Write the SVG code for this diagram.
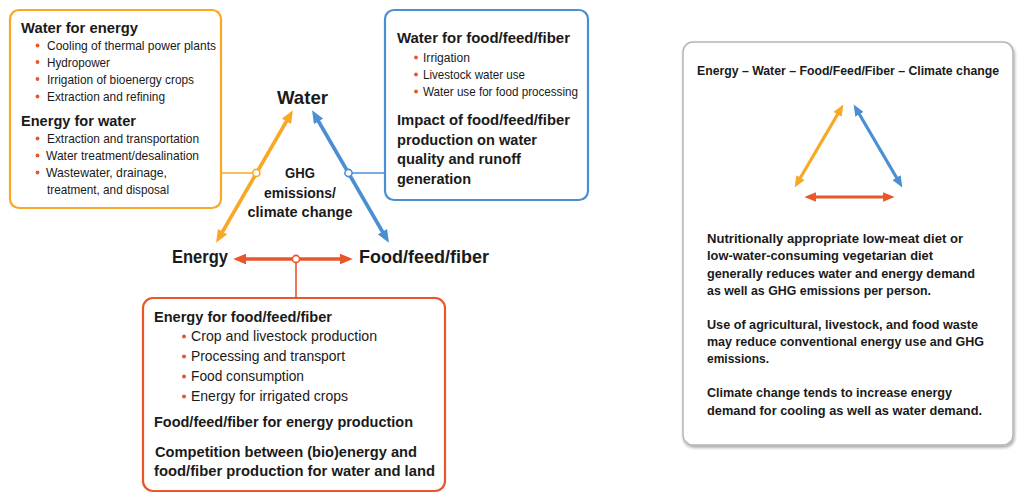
<svg xmlns="http://www.w3.org/2000/svg" width="1024" height="501" viewBox="0 0 1024 501">
<style>
text{font-family:"Liberation Sans",Arial,sans-serif;fill:#1a1a1a}
.h{font-weight:bold;font-size:15.5px}
.b{font-size:13.5px}
.bb{font-size:15px}
.lab{font-weight:bold;font-size:19px}
.ghg{font-weight:bold;font-size:15px}
.rt{font-weight:bold;font-size:13.5px}
.dot{fill:#E8562A}
.box{fill:#fff;stroke-width:2.2}
</style>
<defs>
<marker id="mO" viewBox="0 0 12 10" markerWidth="3.6" markerHeight="3" refX="2" refY="5" orient="auto-start-reverse"><path d="M0,0 L12,5 L0,10 z" fill="#F9A825"/></marker>
<marker id="mB" viewBox="0 0 12 10" markerWidth="3.6" markerHeight="3" refX="2" refY="5" orient="auto-start-reverse"><path d="M0,0 L12,5 L0,10 z" fill="#4B8FD3"/></marker>
<marker id="mR" viewBox="0 0 12 10" markerWidth="3.6" markerHeight="3" refX="2" refY="5" orient="auto-start-reverse"><path d="M0,0 L12,5 L0,10 z" fill="#E8562A"/></marker>
<filter id="sh" x="-5%" y="-5%" width="110%" height="110%"><feDropShadow dx="1" dy="2" stdDeviation="1.5" flood-color="#000" flood-opacity="0.35"/></filter>
</defs>

<g id="connectors">
<line x1="221" y1="173" x2="256" y2="173" stroke="#F9A825" stroke-width="1.6"/>
<line x1="348.5" y1="173" x2="385" y2="173" stroke="#4B8FD3" stroke-width="1.6"/>
<line x1="296" y1="259" x2="296" y2="298" stroke="#E8562A" stroke-width="1.6"/>
<line x1="221.5" y1="233.5" x2="287.5" y2="119.5" stroke="#F9A825" stroke-width="3.6" marker-start="url(#mO)" marker-end="url(#mO)"/>
<line x1="317.5" y1="119.5" x2="383.5" y2="233.5" stroke="#4B8FD3" stroke-width="3.6" marker-start="url(#mB)" marker-end="url(#mB)"/>
<line x1="244" y1="259" x2="342" y2="259" stroke="#E8562A" stroke-width="3.6" marker-start="url(#mR)" marker-end="url(#mR)"/>
<circle cx="256.3" cy="173" r="3.6" fill="#fff" stroke="#F9A825" stroke-width="1.6"/>
<circle cx="348.5" cy="173" r="3.6" fill="#fff" stroke="#4B8FD3" stroke-width="1.6"/>
<circle cx="296" cy="259" r="3.6" fill="#fff" stroke="#E8562A" stroke-width="1.6"/>
</g>

<g id="water-energy-box">
<rect class="box" x="10" y="10" width="211" height="198" rx="9" stroke="#F9A825"/>
<text class="h" x="21" y="33" textLength="117" lengthAdjust="spacingAndGlyphs">Water for energy</text>
<circle class="dot" cx="37.5" cy="45.5" r="1.9"/><text class="b" x="47" y="50" textLength="169" lengthAdjust="spacingAndGlyphs">Cooling of thermal power plants</text>
<circle class="dot" cx="37.5" cy="62" r="1.9"/><text class="b" x="47" y="66.5" textLength="63" lengthAdjust="spacingAndGlyphs">Hydropower</text>
<circle class="dot" cx="37.5" cy="79" r="1.9"/><text class="b" x="47" y="83.5" textLength="147" lengthAdjust="spacingAndGlyphs">Irrigation of bioenergy crops</text>
<circle class="dot" cx="37.5" cy="96.5" r="1.9"/><text class="b" x="47" y="101" textLength="118" lengthAdjust="spacingAndGlyphs">Extraction and refining</text>
<text class="h" x="21" y="126" textLength="115" lengthAdjust="spacingAndGlyphs">Energy for water</text>
<circle class="dot" cx="37.5" cy="138.5" r="1.9"/><text class="b" x="47" y="143" textLength="152" lengthAdjust="spacingAndGlyphs">Extraction and transportation</text>
<circle class="dot" cx="37.5" cy="155.5" r="1.9"/><text class="b" x="46" y="160" textLength="153" lengthAdjust="spacingAndGlyphs">Water treatment/desalination</text>
<circle class="dot" cx="37.5" cy="172.5" r="1.9"/><text class="b" x="46" y="177" textLength="121" lengthAdjust="spacingAndGlyphs">Wastewater, drainage,</text>
<text class="b" x="47" y="194" textLength="122" lengthAdjust="spacingAndGlyphs">treatment, and disposal</text>
</g>

<g id="water-food-box">
<rect class="box" x="385" y="10" width="203" height="190" rx="9" stroke="#4B8FD3"/>
<text class="h" x="397" y="43" textLength="173" lengthAdjust="spacingAndGlyphs">Water for food/feed/fiber</text>
<circle class="dot" cx="416" cy="57.5" r="1.9"/><text class="b" x="423" y="62" textLength="47" lengthAdjust="spacingAndGlyphs">Irrigation</text>
<circle class="dot" cx="416" cy="74.5" r="1.9"/><text class="b" x="423" y="79" textLength="102" lengthAdjust="spacingAndGlyphs">Livestock water use</text>
<circle class="dot" cx="416" cy="91.5" r="1.9"/><text class="b" x="423" y="96" textLength="155" lengthAdjust="spacingAndGlyphs">Water use for food processing</text>
<text class="h" x="397" y="125" textLength="173" lengthAdjust="spacingAndGlyphs">Impact of food/feed/fiber</text>
<text class="h" x="397" y="145" textLength="140" lengthAdjust="spacingAndGlyphs">production on water</text>
<text class="h" x="397" y="164" textLength="124" lengthAdjust="spacingAndGlyphs">quality and runoff</text>
<text class="h" x="397" y="184" textLength="74" lengthAdjust="spacingAndGlyphs">generation</text>
</g>

<g id="energy-food-box">
<rect class="box" x="143" y="298" width="302" height="193" rx="10" stroke="#E8562A"/>
<text class="h" x="154" y="322" textLength="178" lengthAdjust="spacingAndGlyphs">Energy for food/feed/fiber</text>
<circle class="dot" cx="184" cy="336.5" r="2"/><text class="bb" x="191" y="341" textLength="186" lengthAdjust="spacingAndGlyphs">Crop and livestock production</text>
<circle class="dot" cx="184" cy="356.5" r="2"/><text class="bb" x="191" y="361" textLength="154" lengthAdjust="spacingAndGlyphs">Processing and transport</text>
<circle class="dot" cx="184" cy="376.5" r="2"/><text class="bb" x="191" y="381" textLength="113" lengthAdjust="spacingAndGlyphs">Food consumption</text>
<circle class="dot" cx="184" cy="396.5" r="2"/><text class="bb" x="191" y="401" textLength="157" lengthAdjust="spacingAndGlyphs">Energy for irrigated crops</text>
<text class="h" x="154" y="427" textLength="259" lengthAdjust="spacingAndGlyphs">Food/feed/fiber for energy production</text>
<text class="h" x="155" y="457" textLength="262" lengthAdjust="spacingAndGlyphs">Competition between (bio)energy and</text>
<text class="h" x="154" y="476" textLength="281" lengthAdjust="spacingAndGlyphs">food/fiber production for water and land</text>
</g>

<g id="water-label"><text class="lab" x="277" y="104" textLength="51" lengthAdjust="spacingAndGlyphs">Water</text></g>
<g id="energy-label"><text class="lab" x="172" y="263" textLength="56" lengthAdjust="spacingAndGlyphs">Energy</text></g>
<g id="food-label"><text class="lab" x="359" y="263" textLength="130" lengthAdjust="spacingAndGlyphs">Food/feed/fiber</text></g>
<g id="ghg-label">
<text class="ghg" x="300" y="178" text-anchor="middle" textLength="30" lengthAdjust="spacingAndGlyphs">GHG</text>
<text class="ghg" x="300" y="198" text-anchor="middle" textLength="72" lengthAdjust="spacingAndGlyphs">emissions/</text>
<text class="ghg" x="300" y="217" text-anchor="middle" textLength="105" lengthAdjust="spacingAndGlyphs">climate change</text>
</g>

<g id="summary-box">
<rect x="683" y="42" width="330" height="403" rx="10" fill="#fff" stroke="#b5b5b5" stroke-width="1.5" filter="url(#sh)"/>
<text class="rt" x="848" y="75" text-anchor="middle" style="font-size:12px" textLength="302" lengthAdjust="spacingAndGlyphs">Energy – Water – Food/Feed/Fiber – Climate change</text>
<line x1="799.5" y1="179.3" x2="838.5" y2="112.7" stroke="#F9A825" stroke-width="3.2" marker-start="url(#mO)" marker-end="url(#mO)"/>
<line x1="858.5" y1="112.7" x2="897.5" y2="179.3" stroke="#4B8FD3" stroke-width="3.2" marker-start="url(#mB)" marker-end="url(#mB)"/>
<line x1="814" y1="197" x2="885" y2="197" stroke="#E8562A" stroke-width="3.2" marker-start="url(#mR)" marker-end="url(#mR)"/>
<text class="rt" x="707" y="243" textLength="256" lengthAdjust="spacingAndGlyphs">Nutritionally appropriate low-meat diet or</text>
<text class="rt" x="707" y="260" textLength="226" lengthAdjust="spacingAndGlyphs">low-water-consuming vegetarian diet</text>
<text class="rt" x="707" y="278" textLength="268" lengthAdjust="spacingAndGlyphs">generally reduces water and energy demand</text>
<text class="rt" x="707" y="295" textLength="224" lengthAdjust="spacingAndGlyphs">as well as GHG emissions per person.</text>
<text class="rt" x="707" y="329" textLength="271" lengthAdjust="spacingAndGlyphs">Use of agricultural, livestock, and food waste</text>
<text class="rt" x="707" y="346" textLength="277" lengthAdjust="spacingAndGlyphs">may reduce conventional energy use and GHG</text>
<text class="rt" x="707" y="363" textLength="62" lengthAdjust="spacingAndGlyphs">emissions.</text>
<text class="rt" x="707" y="397" textLength="245" lengthAdjust="spacingAndGlyphs">Climate change tends to increase energy</text>
<text class="rt" x="707" y="415" textLength="275" lengthAdjust="spacingAndGlyphs">demand for cooling as well as water demand.</text>
</g>
</svg>
